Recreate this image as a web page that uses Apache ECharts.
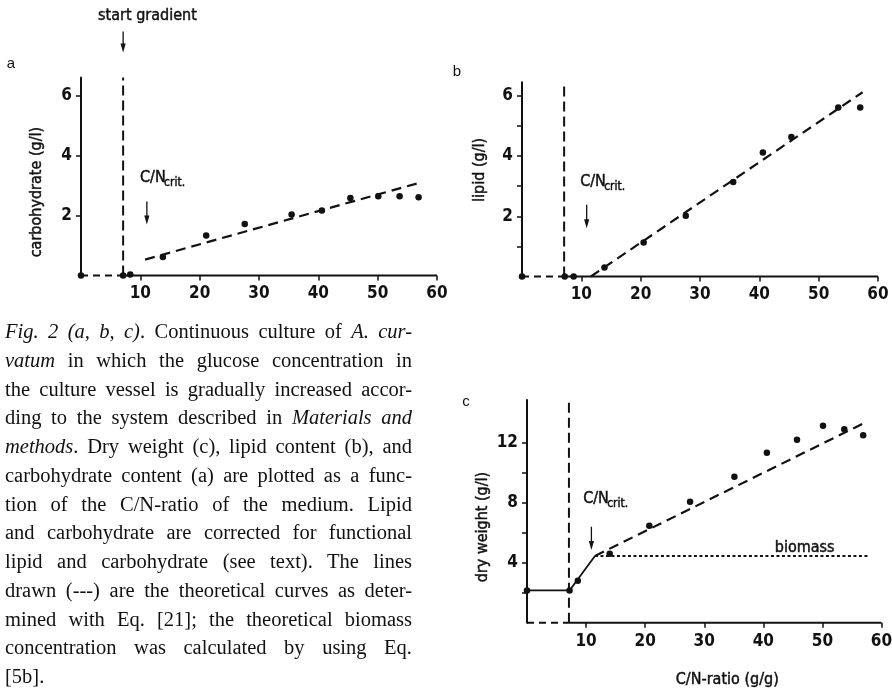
<!DOCTYPE html>
<html>
<head>
<meta charset="utf-8">
<script src="https://cdn.jsdelivr.net/npm/echarts@6/dist/echarts.min.js"></script>
<style>
  html, body { margin: 0; padding: 0; background: #fff; }
  #chart { position: absolute; left: 0; top: 0; width: 892px; height: 693px; }
  #caption {
    position: absolute; left: 5px; top: 317px; width: 407px;
    font-family: 'Liberation Serif', 'Times New Roman', serif;
    font-size: 20.5px; line-height: 28.75px; color: #111;
  }
  #caption div { text-align: justify; text-align-last: justify; white-space: nowrap; }
  #caption div.last { text-align-last: left; }
</style>
</head>
<body>
<div id="chart"></div>
<div id="caption">
  <div><i>Fig. 2 (a, b, c)</i>. Continuous culture of <i>A. cur-</i></div>
  <div><i>vatum</i> in which the glucose concentration in</div>
  <div>the culture vessel is gradually increased accor-</div>
  <div>ding to the system described in <i>Materials and</i></div>
  <div><i>methods</i>. Dry weight (c), lipid content (b), and</div>
  <div>carbohydrate content (a) are plotted as a func-</div>
  <div>tion of the C/N-ratio of the medium. Lipid</div>
  <div>and carbohydrate are corrected for functional</div>
  <div>lipid and carbohydrate (see text). The lines</div>
  <div>drawn (---) are the theoretical curves as deter-</div>
  <div>mined with Eq. [21]; the theoretical biomass</div>
  <div>concentration was calculated by using Eq.</div>
  <div class="last">[5b].</div>
</div>
<script>
// x axis (C/N-ratio, g/g)
const xTicks = [10, 20, 30, 40, 50, 60];

// panel a - carbohydrate (g/l)
const carbX = [0, 7.1, 8.3, 13.8, 21.1, 27.6, 35.5, 40.6, 45.4, 50.1, 53.7, 56.9];
const carbY = [0, 0, 0.03, 0.62, 1.33, 1.72, 2.03, 2.17, 2.58, 2.64, 2.64, 2.61];
const carbFitX = [10.8, 57.4];
const carbFitY = [0.53, 3.11];
const carbTicks = [2, 4, 6];

// panel b - lipid (g/l)
const lipidX = [0, 7.2, 8.7, 13.9, 20.5, 27.6, 35.6, 40.6, 45.4, 53.3, 57.0];
const lipidY = [0, 0, 0, 0.3, 1.13, 2.02, 3.14, 4.12, 4.63, 5.61, 5.61];
const lipidFitX = [11.6, 57.4];
const lipidFitY = [0, 6.12];
const lipidTicks = [1, 2, 3, 4, 5, 6];
const lipidLabels = [2, 4, 6];

// panel c - dry weight (g/l)
const dryX = [0, 7.2, 8.6, 14.0, 20.7, 27.6, 35.1, 40.6, 45.7, 50.1, 53.7, 56.9];
const dryY = [2.15, 2.15, 2.8, 4.6, 6.47, 8.07, 9.73, 11.33, 12.2, 13.13, 12.9, 12.5];
const dryBaseX = [0, 7.2, 11.5];
const dryBaseY = [2.15, 2.15, 4.45];
const dryFitX = [11.5, 57.5];
const dryFitY = [4.45, 13.4];
const biomassX = [11.5, 57.7];
const biomassY = [4.45, 4.45];
const dryTicks = [2, 4, 6, 8, 10, 12];
const dryLabels = [4, 8, 12];

// start of gradient and critical C/N ratio
const gradientX = 7.1;
const zeroX = [0, 7.1];
const zeroY = [0, 0];
const axisX = [7.1, 60];
const axisY = [0, 0];

const ink = '#111';
const narrow = "'Liberation Sans Narrow', 'DejaVu Sans Condensed', sans-serif";

const pairs = (xs, ys) => xs.map((x, i) => [x, ys[i]]);

function xAxisFor(gridIndex) {
  return {
    type: 'value', gridIndex: gridIndex, min: 0, max: 60,
    // the base line is only solid after the gradient start, drawn as a series below
    axisLine: { show: false, onZero: false },
    axisTick: { show: true, inside: false, length: 5, customValues: xTicks, lineStyle: { color: ink, width: 1.5 } },
    axisLabel: { customValues: xTicks, color: ink, fontFamily: narrow, fontWeight: 'bold', fontSize: 17, margin: 10 },
    splitLine: { show: false }
  };
}

function yAxisFor(gridIndex, max, ticks, labels) {
  return {
    type: 'value', gridIndex: gridIndex, min: 0, max: max,
    axisLine: { show: true, onZero: false, lineStyle: { color: ink, width: 2 } },
    axisTick: { show: true, inside: false, length: 5, customValues: ticks, lineStyle: { color: ink, width: 1.5 } },
    axisLabel: { customValues: labels, color: ink, fontFamily: narrow, fontWeight: 'bold', fontSize: 17, margin: 9 },
    splitLine: { show: false }
  };
}

function dots(i, xs, ys) {
  return {
    type: 'scatter', xAxisIndex: i, yAxisIndex: i, data: pairs(xs, ys),
    symbol: 'circle', symbolSize: 6.5, itemStyle: { color: ink, opacity: 1 }, z: 5
  };
}

function path(i, data, lineType, width) {
  return {
    type: 'line', xAxisIndex: i, yAxisIndex: i, data: data,
    showSymbol: false, clip: false, silent: true,
    lineStyle: { color: ink, width: width, type: lineType }
  };
}

function panel(i, top, fitX, fitY, xs, ys) {
  return [
    path(i, pairs(axisX, axisY), 'solid', 2),
    path(i, pairs(zeroX, zeroY), [7, 5], 2),
    path(i, [[gradientX, 0], [gradientX, top]], [10, 5], 2),
    path(i, pairs(fitX, fitY), [10, 6], 2.2),
    dots(i, xs, ys)
  ];
}

const chart = echarts.init(document.getElementById('chart'));
chart.setOption({
  animation: false,
  backgroundColor: '#fff',
  grid: [
    { left: 81, top: 77.5, width: 356, height: 198, outerBoundsMode: 'none' },
    { left: 522, top: 82.3, width: 356, height: 194.2, outerBoundsMode: 'none' },
    { left: 527, top: 400, width: 354.5, height: 222.7, outerBoundsMode: 'none' }
  ],
  xAxis: [xAxisFor(0), xAxisFor(1), xAxisFor(2)],
  yAxis: [
    yAxisFor(0, 6.6, carbTicks, carbTicks),
    yAxisFor(1, 6.45, lipidTicks, lipidLabels),
    yAxisFor(2, 14.85, dryTicks, dryLabels)
  ],
  series: [].concat(
    panel(0, 6.6, carbFitX, carbFitY, carbX, carbY),
    panel(1, 6.45, lipidFitX, lipidFitY, lipidX, lipidY),
    panel(2, 14.95, dryFitX, dryFitY, dryX, dryY),
    [
      path(2, pairs(dryBaseX, dryBaseY), 'solid', 1.8),
      path(2, pairs(biomassX, biomassY), [3, 2.5], 2)
    ]
  )
});

// annotations placed from data coordinates
const px = (g, x, y) => chart.convertToPixel({ gridIndex: g }, [x, y]);

function arrow(g, x, yFrom, yTo) {
  const a = px(g, x, yFrom), b = px(g, x, yTo);
  return [
    { type: 'line', shape: { x1: a[0], y1: a[1], x2: b[0], y2: b[1] - 6 }, style: { stroke: ink, lineWidth: 1.3 } },
    { type: 'polygon', shape: { points: [[b[0] - 2.6, b[1] - 9], [b[0] + 2.6, b[1] - 9], [b[0], b[1]]] }, style: { fill: ink } }
  ];
}

function text(x, y, str, size, align, rotation) {
  return {
    type: 'text', x: x, y: y, rotation: rotation || 0,
    style: {
      text: str, fill: ink, stroke: ink, lineWidth: 0.45,
      font: size + 'px ' + narrow, align: align || 'center', verticalAlign: 'middle'
    }
  };
}

function critLabel(g, x, y) {
  const p = px(g, x, y);
  return [
    text(p[0], p[1], 'C/N', 16, 'left'),
    text(p[0] + 24, p[1] + 5, 'crit.', 12, 'left')
  ];
}

function yName(g, y, gap, str) {
  const p = px(g, 0, y);
  return text(p[0] - gap, p[1], str, 16, 'center', Math.PI / 2);
}

function letter(x, y, str) {
  return { type: 'text', x: x, y: y, style: { text: str, fill: ink, font: '15px "Liberation Sans", Arial, sans-serif', align: 'center', verticalAlign: 'middle' } };
}

const sg = px(0, 11.2, 8.67);
const bm = px(2, 47.0, 4.98);
const xn = px(2, 33.9, 0);

const elements = [].concat(
  [text(sg[0], sg[1], 'start gradient', 16)],
  arrow(0, gradientX, 8.13, 7.43),
  arrow(0, 11.1, 2.47, 1.7), critLabel(0, 9.95, 3.25),
  arrow(1, 10.9, 2.38, 1.6), critLabel(1, 9.8, 3.13),
  arrow(2, 10.9, 6.4, 4.85), critLabel(2, 9.5, 8.25),
  [
    text(bm[0], bm[1], 'biomass', 16),
    text(xn[0], xn[1] + 57, 'C/N-ratio (g/g)', 16),
    yName(0, 2.78, 44, 'carbohydrate (g/l)'),
    yName(1, 3.54, 42, 'lipid (g/l)'),
    yName(2, 6.38, 44, 'dry weight (g/l)'),
    letter(11, 64, 'a'),
    letter(457, 72, 'b'),
    letter(466, 402, 'c')
  ]
);

chart.setOption({ graphic: { elements: elements } });
</script>
</body>
</html>
